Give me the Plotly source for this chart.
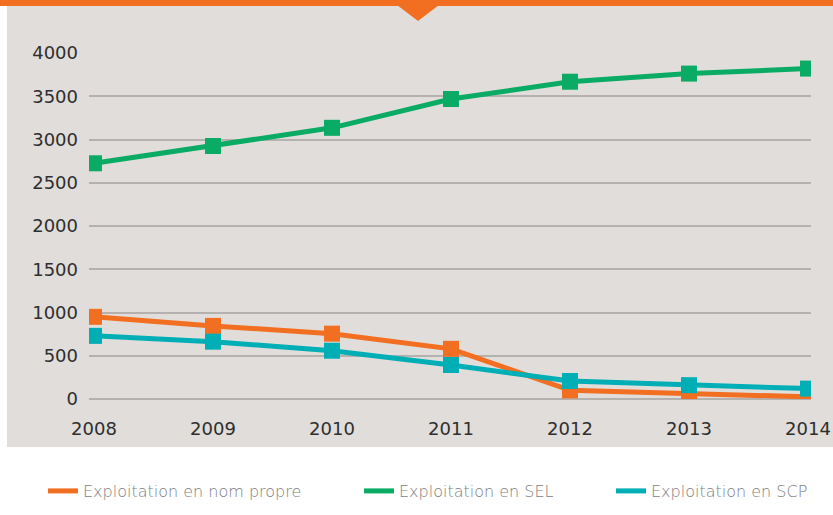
import plotly.graph_objects as go

years = [2008, 2009, 2010, 2011, 2012, 2013, 2014]
nom_propre = [950, 845, 755, 580, 100, 60, 25]
sel = [2725, 2925, 3135, 3468, 3668, 3762, 3820]
scp = [730, 663, 558, 393, 208, 160, 120]
names = ["Exploitation en nom propre", "Exploitation en SEL", "Exploitation en SCP"]
colors = ["#F26F22", "#0AAB64", "#00AEB5"]
y_ticks = [0, 500, 1000, 1500, 2000, 2500, 3000, 3500, 4000]

W, H = 833, 515
L, R, T, B = 89, 22, 53, 116
PW, PH = W - L - R, H - T - B


def px(x):
    return (x - L) / PW


def py(y):
    return (H - B - y) / PH


BG = "#E1DDDA"
FONT = "DejaVu Sans"

fig = go.Figure()
series = [nom_propre, sel, scp]
legends = ["legend", "legend2", "legend3"]
for name, vals, col, lg in zip(names, series, colors, legends):
    fig.add_trace(go.Scatter(
        x=years, y=vals, mode="lines+markers", name=name,
        line=dict(color=col, width=5),
        marker=dict(symbol="square", size=16, color=col),
        showlegend=False, hoverinfo="skip",
    ))
# legend-only entries (line samples)
for name, col, lg in zip(names, colors, legends):
    fig.add_trace(go.Scatter(
        x=[None], y=[None], mode="lines", name=name,
        line=dict(color=col, width=5), legend=lg, showlegend=True,
    ))

shapes = [
    dict(type="rect", xref="paper", yref="paper", x0=px(7), x1=px(W + 5),
         y0=py(447), y1=py(-5), fillcolor=BG, line=dict(width=0), layer="below"),
    dict(type="rect", xref="paper", yref="paper", x0=px(0), x1=px(W + 5),
         y0=py(6), y1=py(-5), fillcolor="#F26F22", line=dict(width=0), layer="above"),
    dict(type="path", xref="paper", yref="paper",
         path=f"M {px(397)},{py(5)} L {px(439)},{py(5)} L {px(418)},{py(21)} Z",
         fillcolor="#F26F22", line=dict(width=0), layer="above"),
]

leg_font = dict(family=FONT, size=16, color="#7E7E7E", weight=300)
legend_x = [43, 359, 611]
leg_common = dict(orientation="h", yanchor="middle", xanchor="left", y=py(491),
                  bgcolor="rgba(0,0,0,0)", font=leg_font, borderwidth=0)

fig.update_layout(
    width=W, height=H,
    margin=dict(l=L, r=R, t=T, b=B, pad=0, autoexpand=False),
    paper_bgcolor="white", plot_bgcolor=BG,
    shapes=shapes,
    legend=dict(x=px(legend_x[0]), **leg_common),
    legend2=dict(x=px(legend_x[1]), **leg_common),
    legend3=dict(x=px(legend_x[2]), **leg_common),
    xaxis=dict(range=[2007.958, 2014.025], tickvals=years, showgrid=False,
               zeroline=False, showline=False, ticks="",
               tickfont=dict(family=FONT, size=18, color="#2E2E2E"),
               ticklabelstandoff=17),
    yaxis=dict(range=[0, 4000], tickvals=y_ticks, showgrid=True,
               gridcolor="#B4B1AF", gridwidth=1.5, zeroline=True,
               zerolinecolor="#B4B1AF", zerolinewidth=1.5, showline=False,
               ticks="", tickfont=dict(family=FONT, size=18, color="#2E2E2E"),
               ticklabelstandoff=10),
)

fig.write_html(
    "out.html",
    config={"displayModeBar": False},
    post_script="document.body.style.margin='0';document.body.style.padding='0';"
                "document.body.style.overflow='hidden';",
)
